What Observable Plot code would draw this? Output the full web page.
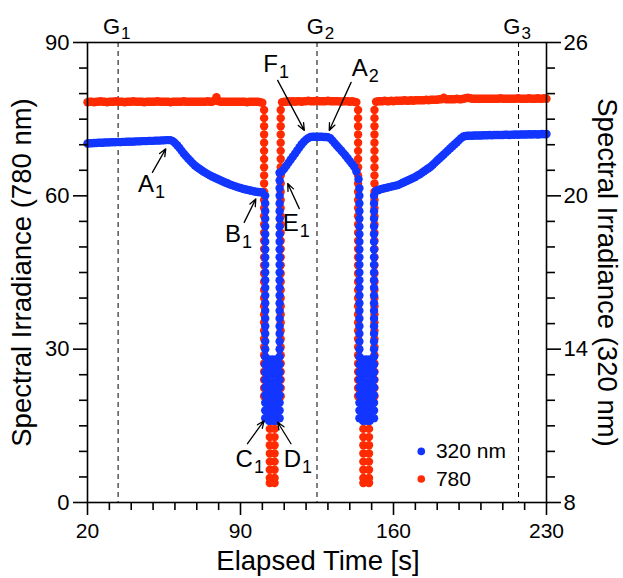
<!DOCTYPE html>
<html><head><meta charset="utf-8">
<script src="https://cdn.jsdelivr.net/npm/d3@7"></script>
<script src="https://cdn.jsdelivr.net/npm/@observablehq/plot@0.6"></script>
<style>body{margin:0;background:#fff}</style>
</head><body><div id="chart"></div>
<script>
const FONT = "'Liberation Sans', Arial, Helvetica, sans-serif";
const RED = "#ff2a00";
const BLUE = "#1236ff";

// ---- axes ----
const xMajorTicks = [20, 90, 160, 230];
const xMinorTicks = [30, 40, 50, 60, 70, 80, 100, 110, 120, 130, 140, 150, 170, 180, 190, 200, 210, 220];
const yLeftMajor = [0, 30, 60, 90];
const yLeftMinor = [5, 10, 15, 20, 25, 35, 40, 45, 50, 55, 65, 70, 75, 80, 85];
const yRightMajor = [8, 14, 20, 26];
const yRightMinor = [9, 10, 11, 12, 13, 15, 16, 17, 18, 19, 21, 22, 23, 24, 25];

// ---- 780 nm series (left axis), one reading per second ----
const red780A = [ // t = 20..100
  78.3,78.4,78.4,78.3,78.4,78.4,78.5,78.4,78.4,78.3,
  78.4,78.4,78.4,78.5,78.4,78.4,78.4,78.3,78.4,78.4,
  78.4,78.5,78.4,78.4,78.4,78.4,78.3,78.4,78.4,78.4,
  78.4,78.4,78.5,78.4,78.4,78.4,78.4,78.4,78.3,78.4,
  78.4,78.4,78.4,78.4,78.5,78.4,78.4,78.4,78.4,78.4,
  78.4,78.4,78.4,78.4,78.4,78.5,78.4,78.4,78.6,79.3,
  78.5,78.4,78.4,78.4,78.4,78.4,78.4,78.4,78.4,78.4,
  78.4,78.4,78.4,78.3,78.4,78.4,78.4,78.4,78.4,78.3,
  78.2];
const red780B = [ // t = 109..143
  78.3,78.4,78.4,78.5,78.4,78.5,78.4,78.5,78.5,78.4,
  78.5,78.5,78.6,78.5,78.5,78.5,78.6,78.5,78.5,78.5,
  78.5,78.6,78.5,78.5,78.5,78.5,78.5,78.4,78.5,78.5,
  78.5,78.4,78.5,78.4,78.3];
const red780C = [ // t = 152..230
  78.4,78.5,78.5,78.5,78.6,78.5,78.5,78.6,78.5,78.6,
  78.6,78.6,78.6,78.7,78.6,78.6,78.7,78.6,78.7,78.7,
  78.7,78.7,78.7,78.8,78.7,78.8,78.8,78.8,78.8,78.9,
  78.9,79.2,78.9,78.9,78.9,78.9,78.9,79.0,78.9,78.9,
  79.0,79.1,79.2,79.1,79.0,79.0,79.0,79.0,79.0,79.0,
  79.0,79.0,79.0,79.0,79.0,79.0,79.0,79.1,79.0,79.0,
  79.0,79.0,79.0,79.0,79.0,79.1,79.0,79.0,79.0,79.0,
  79.1,79.0,79.0,79.0,79.1,79.0,79.0,79.1,79.0];
// fast readings during the two shadow dips
const red780WallLevels = [20.8,22.4,24.0,25.6,27.2,28.8,30.4,32.0,33.6,35.2,36.8,38.4,40.0,41.6,43.2,44.8,46.4,48.0,
  49.6,51.2,52.8,54.4,56.0,57.6,59.2,60.8,62.4,64.0,65.6,67.2,68.8,70.4,72.0,73.6,75.2,76.8];
const red780BottomLevels = [3.8,4.8,6.4,8.0,9.6,11.2,12.8,14.4,16.0,17.6,19.2];
const red780Dip1Times = [100.8, 103.4, 105.6, 108.4];
const red780Dip2Times = [143.8, 146.2, 148.8, 151.3];

// ---- 320 nm series (right axis), one reading per second ----
const blue320A = [ // t = 20..100
  22.05,22.06,22.06,22.07,22.07,22.08,22.08,22.08,22.09,22.09,
  22.09,22.10,22.10,22.10,22.11,22.10,22.11,22.11,22.12,22.12,
  22.12,22.12,22.13,22.13,22.13,22.14,22.14,22.14,22.15,22.15,
  22.15,22.16,22.16,22.16,22.17,22.17,22.18,22.18,
  22.18,22.14,22.07,21.98,21.88,21.77,21.66,21.56,21.46,21.37,
  21.28,21.20,21.13,21.07,21.01,20.95,20.90,20.85,20.80,20.76,
  20.72,20.68,20.64,20.60,20.56,20.52,20.49,20.45,20.42,20.39,
  20.36,20.33,20.31,20.28,20.26,20.24,20.22,20.20,20.18,20.16,
  20.15,20.14,20.13];
const blue320B = [ // t = 108..144
  20.90,20.96,21.06,21.18,21.30,21.42,21.54,21.66,21.78,21.90,
  22.02,22.12,22.20,22.26,22.30,22.31,22.31,22.30,22.31,22.31,
  22.30,22.30,22.29,22.26,22.17,22.07,21.97,21.87,21.78,21.68,
  21.58,21.47,21.36,21.25,21.14,20.95,20.65];
const blue320C = [ // t = 152..230
  20.20,20.22,20.26,20.28,20.30,20.32,20.34,20.36,20.38,20.40,
  20.42,20.46,20.50,20.54,20.58,20.62,20.66,20.70,20.74,20.80,
  20.84,20.90,20.96,21.02,21.08,21.14,21.22,21.30,21.38,21.46,
  21.54,21.62,21.70,21.78,21.86,21.94,22.02,22.10,22.18,22.26,
  22.32,22.34,22.35,22.35,22.35,22.36,22.36,22.36,22.36,22.37,
  22.37,22.37,22.38,22.37,22.38,22.38,22.38,22.38,22.38,22.39,
  22.39,22.38,22.39,22.39,22.40,22.39,22.40,22.40,22.40,22.40,
  22.41,22.40,22.41,22.41,22.40,22.41,22.42,22.41,22.42];
const blue320ColumnLevels = [11.3,11.6,11.9,12.2,12.5,12.8,13.1,13.4,13.7,14.0,14.3,14.6,14.9,15.2,15.5,15.8,
  16.1,16.4,16.7,17.0,17.3,17.6,17.9,18.2,18.5,18.8,19.1,19.4,19.7,20.0];
const blue320BottomLevels = [11.2,11.5,11.8,12.1,12.4,12.7,13.0,13.3,13.6];
const blue320Dip1Times = {left: 101.3, fill: [103.0, 104.6, 106.2], right: 107.9, rightTop: [20.3, 20.6, 20.9]};
const blue320Dip2Times = {left: 144.4, fill: [146.0, 147.6, 149.2], right: 151.1, leftTop: [20.3]};

// ---- guide lines & annotations ----
const gLineTimes = [34.0, 125.0, 217.2];
const gLabels = [{l: "G", s: "1", t: 34.9}, {l: "G", s: "2", t: 128.1}, {l: "G", s: "3", t: 218.1}];
const pointLabels = [
  {l: "A", s: "1", t: 50.4, v: 62.2},
  {l: "B", s: "1", t: 90.2, v: 52.4},
  {l: "E", s: "1", t: 116.7, v: 54.7},
  {l: "F", s: "1", t: 107.1, v: 85.7},
  {l: "A", s: "2", t: 148.2, v: 85.0},
  {l: "C", s: "1", t: 95.7, v: 8.5},
  {l: "D", s: "1", t: 117.7, v: 8.5}
];
const pointArrows = [
  {t1: 49.7, v1: 64.6, t2: 55.8, v2: 69.2},
  {t1: 91.7, v1: 54.8, t2: 97.0, v2: 59.4},
  {t1: 116.9, v1: 57.5, t2: 111.6, v2: 62.4},
  {t1: 107.0, v1: 82.6, t2: 119.2, v2: 72.8},
  {t1: 140.6, v1: 82.2, t2: 130.6, v2: 72.8},
  {t1: 93.2, v1: 11.5, t2: 100.8, v2: 16.0},
  {t1: 113.1, v1: 11.5, t2: 107.0, v2: 15.7}
];
const legendLabels = ["320 nm", "780"];

// ---- build point tables ----
const seg = (t0, vals) => vals.map((v, i) => ({t: t0 + i, v}));
const col = (t, vals) => vals.map(v => ({t, v}));
const red = [
  ...seg(20, red780A),
  ...col(red780Dip1Times[0], red780WallLevels), ...col(red780Dip1Times[1], red780BottomLevels),
  ...col(red780Dip1Times[2], red780BottomLevels), ...col(red780Dip1Times[3], red780WallLevels),
  ...seg(109, red780B),
  ...col(red780Dip2Times[0], red780WallLevels), ...col(red780Dip2Times[1], red780BottomLevels),
  ...col(red780Dip2Times[2], red780BottomLevels), ...col(red780Dip2Times[3], red780WallLevels),
  ...seg(152, red780C)
];
const blue = [
  ...seg(20, blue320A),
  ...col(blue320Dip1Times.left, blue320ColumnLevels),
  ...blue320Dip1Times.fill.flatMap(t => col(t, blue320BottomLevels)),
  ...col(blue320Dip1Times.right, blue320ColumnLevels), ...col(blue320Dip1Times.right, blue320Dip1Times.rightTop),
  ...seg(108, blue320B),
  ...col(blue320Dip2Times.left, blue320ColumnLevels), ...col(blue320Dip2Times.left, blue320Dip2Times.leftTop),
  ...blue320Dip2Times.fill.flatMap(t => col(t, blue320BottomLevels)),
  ...col(blue320Dip2Times.right, blue320ColumnLevels),
  ...seg(152, blue320C)
];
const toLeft = u => (u - 8) * 5; // 320 nm axis -> 780 nm axis

const chart = Plot.plot({
  width: 623, height: 578,
  marginLeft: 87, marginRight: 77, marginTop: 42, marginBottom: 76,
  style: {fontFamily: FONT, fontSize: "22px", color: "black", background: "white", overflow: "visible"},
  x: {domain: [20, 230]},
  y: {domain: [0, 90]},
  marks: [
    Plot.ruleX(gLineTimes, {x: d => d, stroke: "black", strokeWidth: 1, strokeDasharray: "5,4"}),
    Plot.dot(red, {x: "t", y: "v", r: 4.2, fill: RED}),
    Plot.dot(blue, {x: "t", y: d => toLeft(d.v), r: 4.2, fill: BLUE}),
    Plot.frame({stroke: "black", strokeWidth: 1.6}),
    Plot.axisX({ticks: xMajorTicks, tickSize: 13, tickPadding: 8, strokeWidth: 1.6, fontSize: 21, label: null}),
    Plot.axisX({ticks: xMinorTicks, tickSize: 8, strokeWidth: 1.6, tickFormat: () => "", label: null}),
    Plot.axisY({ticks: yLeftMajor, tickSize: 14, tickPadding: 4, strokeWidth: 1.6, fontSize: 22, label: null}),
    Plot.axisY({ticks: yLeftMinor, tickSize: 8, strokeWidth: 1.6, tickFormat: () => "", label: null}),
    Plot.axisY({anchor: "right", ticks: yRightMajor.map(toLeft), tickFormat: v => String(v / 5 + 8),
      tickSize: 14, tickPadding: 3, strokeWidth: 1.6, fontSize: 22, label: null}),
    Plot.axisY({anchor: "right", ticks: yRightMinor.map(toLeft), tickSize: 8, strokeWidth: 1.6,
      tickFormat: () => "", label: null}),
    Plot.text(["Elapsed Time [s]"], {text: d => d, frameAnchor: "bottom", textAnchor: "middle", dx: 1, dy: 59, fontSize: 27.5, lineAnchor: "middle"}),
    Plot.text(["Spectral Irradiance (780 nm)"], {text: d => d, frameAnchor: "left", textAnchor: "middle", dx: -65.5, rotate: -90, fontSize: 27.5, lineAnchor: "middle"}),
    Plot.text(["Spectral Irradiance (320 nm)"], {text: d => d, frameAnchor: "right", textAnchor: "middle", dx: 60.5, rotate: 90, fontSize: 27.5, lineAnchor: "middle"}),
    // G labels above the frame
    Plot.text(gLabels, {x: "t", y: () => 93.1, text: "l", textAnchor: "end", lineAnchor: "middle", fontSize: 22}),
    Plot.text(gLabels, {x: "t", y: () => 93.1, text: "s", textAnchor: "start", lineAnchor: "middle", dx: 1, dy: 7, fontSize: 17}),
    // point annotations
    Plot.arrow(pointArrows, {x1: "t1", y1: "v1", x2: "t2", y2: "v2", stroke: "black", strokeWidth: 1.3, headLength: 9, headAngle: 45}),
    Plot.text(pointLabels, {x: "t", y: "v", text: "l", textAnchor: "end", lineAnchor: "middle", fontSize: 24}),
    Plot.text(pointLabels, {x: "t", y: "v", text: "s", textAnchor: "start", lineAnchor: "middle", dx: 1, dy: 8, fontSize: 18}),
    // legend
    Plot.dot([legendLabels[0]], {x: () => 172.7, y: () => 10.0, r: 3.8, fill: BLUE}),
    Plot.dot([legendLabels[1]], {x: () => 172.7, y: () => 4.6, r: 3.8, fill: RED}),
    Plot.text(legendLabels, {x: () => 179.4, y: (d, i) => [10.0, 4.6][i], text: d => d, textAnchor: "start", lineAnchor: "middle", fontSize: 21})
  ]
});
document.getElementById("chart").appendChild(chart);
</script>
</body></html>
